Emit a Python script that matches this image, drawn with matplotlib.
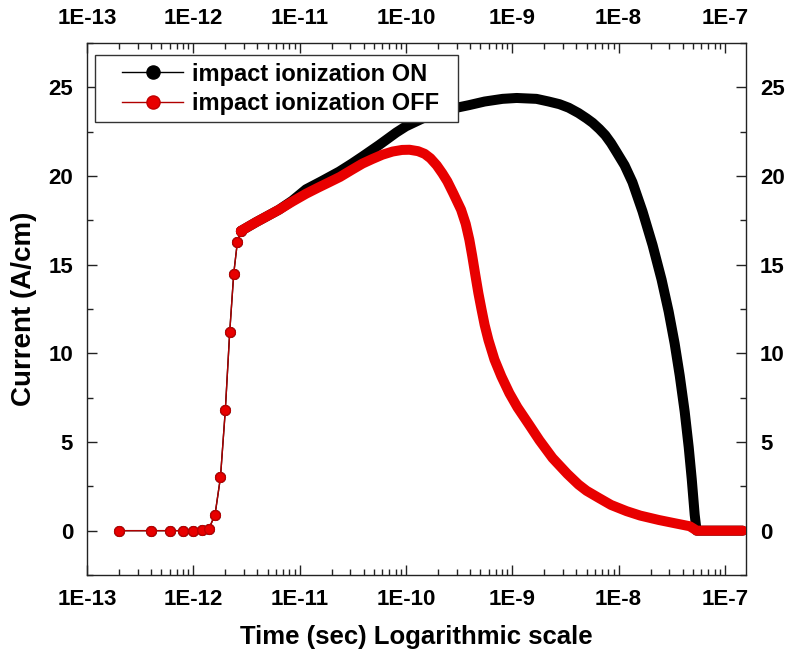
"""Transient current vs. time, impact ionization ON / OFF."""

import matplotlib

matplotlib.use("Agg")
import matplotlib.pyplot as plt
import numpy as np
from matplotlib.patches import Rectangle
from matplotlib.ticker import FixedLocator, FuncFormatter, LogLocator, MultipleLocator

plt.rcParams["font.family"] = ["Liberation Sans", "DejaVu Sans"]
plt.rcParams["font.weight"] = "bold"

# sparse early samples (shared by both runs)
early_time = [2e-13, 4e-13, 6e-13, 8e-13, 1.0e-12, 1.2e-12, 1.4e-12,
              1.6e-12, 1.8e-12, 2.0e-12, 2.2e-12, 2.4e-12, 2.6e-12, 2.8e-12]
early_current = [0.0, 0.0, 0.0, 0.0, 0.0, 0.02, 0.1,
                 0.9, 3.0, 6.8, 11.2, 14.5, 16.3, 16.9]

# impact ionization ON (dense part)
on_time = [2.8e-12, 3.9e-12, 6.4e-12, 8.5e-12, 1.15e-11, 1.6e-11, 2.36e-11,
           3.1e-11, 3.9e-11, 5.6e-11, 8.1e-11, 1.0e-10, 1.5e-10, 2.2e-10,
           3.0e-10, 3.95e-10, 5.5e-10, 8.1e-10, 1.1e-9, 1.69e-9, 2.2e-9,
           2.78e-9, 3.4e-9, 4.2e-9, 5.0e-9, 5.7e-9, 6.6e-9, 7.5e-9, 8.5e-9,
           9.57e-9, 1.14e-8, 1.35e-8, 1.68e-8, 2.09e-8, 2.54e-8, 2.96e-8,
           3.37e-8, 3.76e-8, 4.19e-8, 4.57e-8, 4.88e-8, 5.2e-8, 5.42e-8,
           1.47e-7]
on_current = [16.9, 17.4, 18.1, 18.6, 19.25, 19.7, 20.25,
              20.7, 21.1, 21.75, 22.45, 22.8, 23.3, 23.65,
              23.85, 24.0, 24.2, 24.35, 24.4, 24.35, 24.2,
              24.05, 23.85, 23.55, 23.25, 23.0, 22.65, 22.3, 21.85,
              21.35, 20.6, 19.65, 18.0, 16.1, 14.15, 12.35,
              10.55, 8.75, 6.7, 4.7, 2.9, 0.9, 0.0,
              0.0]

# impact ionization OFF (dense part)
off_time = [2.8e-12, 3.3e-12, 3.9e-12, 5e-12, 6.4e-12, 8.5e-12, 1.15e-11,
            1.5e-11, 1.9e-11, 2.4e-11, 3.1e-11, 3.9e-11, 4.8e-11, 6e-11,
            7.5e-11, 9.2e-11, 1.08e-10, 1.3e-10, 1.5e-10, 1.7e-10, 1.95e-10,
            2.2e-10, 2.45e-10, 2.8e-10, 3.3e-10, 3.65e-10, 3.95e-10, 4.2e-10,
            4.5e-10, 4.8e-10, 5.13e-10, 5.5e-10, 5.97e-10, 6.8e-10, 7.9e-10,
            9.4e-10, 1.12e-9, 1.45e-9, 1.8e-9, 2.39e-9, 3.3e-9, 4.2e-9,
            5.0e-9, 6.5e-9, 8.5e-9, 1.19e-8, 1.6e-8, 2.4e-8, 3.5e-8, 4.67e-8,
            5.45e-8, 1.47e-7]
off_current = [16.9, 17.15, 17.4, 17.75, 18.1, 18.55, 19.0,
               19.35, 19.65, 19.95, 20.35, 20.7, 20.95, 21.2,
               21.38, 21.47, 21.48, 21.4, 21.25, 21.0, 20.6,
               20.15, 19.7, 19.0, 18.1, 17.3, 16.4, 15.5,
               14.4, 13.4, 12.5, 11.6, 10.75, 9.65, 8.7,
               7.75, 6.95, 5.95, 5.1, 4.1, 3.2, 2.6,
               2.25, 1.85, 1.45, 1.1, 0.85, 0.6, 0.4, 0.25,
               0.0, 0.0]

RED = "#e80000"

fig = plt.figure(figsize=(7.86, 6.56), dpi=100)
ax = fig.add_axes([87 / 786, 81 / 656, 659 / 786, 532 / 656])

# ON: black
ax.plot(early_time, early_current, color="black", lw=1.0, marker="o", ms=7,
        mfc="black", mec="black", label="impact ionization ON", zorder=2)
ax.plot(on_time, on_current, color="black", lw=7.2, solid_capstyle="round",
        solid_joinstyle="round", zorder=2)

# OFF: red
ax.plot(early_time, early_current, color="#b00000", lw=1.0, marker="o", ms=7,
        mfc=RED, mec="#c00000", label="impact ionization OFF", zorder=3)
ax.plot(off_time, off_current, color=RED, lw=7.2, solid_capstyle="round",
        solid_joinstyle="round", zorder=3)

ax.set_xscale("log")
ax.set_xlim(1e-13, 1.58e-7)
ax.set_ylim(-2.5, 27.5)

ax.xaxis.set_major_locator(FixedLocator([10.0 ** k for k in range(-13, -6)]))
ax.xaxis.set_minor_locator(LogLocator(base=10, subs=np.arange(2, 10), numticks=20))
ax.xaxis.set_major_formatter(FuncFormatter(lambda v, _: f"1E{int(round(np.log10(v)))}"))
ax.yaxis.set_major_locator(MultipleLocator(5))
ax.yaxis.set_minor_locator(MultipleLocator(2.5))

ax.tick_params(which="both", direction="in", top=True, right=True,
               labeltop=True, labelright=True, width=1.0, color="#222222")
ax.tick_params(which="major", length=7, labelsize=16)
ax.tick_params(which="minor", length=4)
ax.tick_params(axis="x", which="major", pad=10)
ax.tick_params(axis="y", which="major", pad=10)
for lab in ax.get_yticklabels() + ax.get_xticklabels():
    lab.set_fontweight("bold")
for s in ax.spines.values():
    s.set_linewidth(1.0)
    s.set_color("#222222")

ax.set_xlabel("Time (sec) Logarithmic scale", fontsize=18.5, fontweight="bold", labelpad=11)
ax.set_ylabel("Current (A/cm)", fontsize=20, fontweight="bold", labelpad=8)

# legend frame drawn separately so the padding matches the original box
ax.add_patch(Rectangle((0.0121, 0.8515), 0.551, 0.126, transform=ax.transAxes,
                       facecolor="white", edgecolor="#333333", lw=1.0, zorder=4.9))
leg = ax.legend(loc="upper left", bbox_to_anchor=(0.053, 0.963), borderaxespad=0,
                frameon=False, handlelength=2.6, handletextpad=0.38, borderpad=0,
                labelspacing=0.28, markerscale=1.35,
                prop={"weight": "bold", "size": 17})
leg.set_zorder(5)

fig.savefig("out.png", dpi=100)
